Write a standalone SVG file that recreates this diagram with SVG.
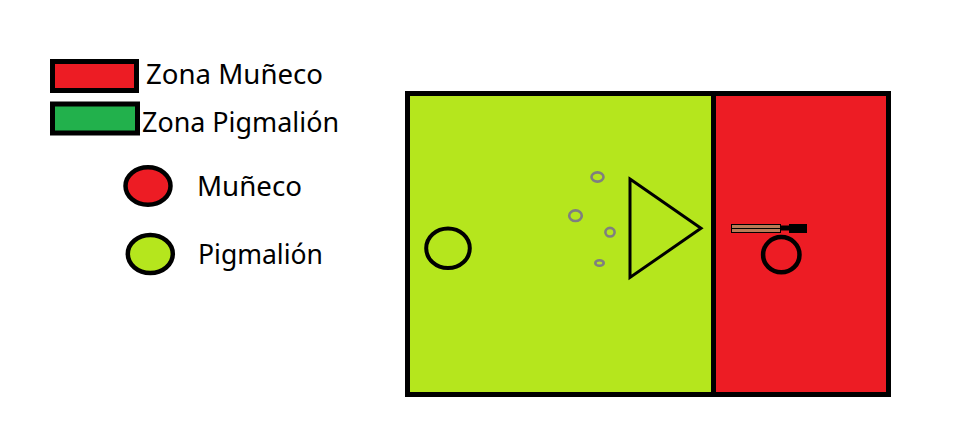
<svg xmlns="http://www.w3.org/2000/svg" width="965" height="444" viewBox="0 0 965 444">
<style>
.t{font-family:"Noto Sans","Open Sans",sans-serif;font-size:26.5px;fill:#000}
.k{stroke:#000;fill:none}
.g{stroke:#7f7f7f;stroke-width:2.6;fill:none}
</style>
<rect width="965" height="444" fill="#fff"/>
<g id="legend-zona-muneco">
<rect x="52.5" y="61.5" width="84" height="29" fill="#ed1c24" stroke="#000" stroke-width="5"/>
<text class="t" x="146" y="84" textLength="177" lengthAdjust="spacingAndGlyphs">Zona Muñeco</text>
</g>
<g id="legend-zona-pigmalion">
<rect x="52.5" y="104" width="85" height="29" fill="#22b14c" stroke="#000" stroke-width="5"/>
<text class="t" x="142" y="132" textLength="197" lengthAdjust="spacingAndGlyphs">Zona Pigmalión</text>
</g>
<g id="legend-muneco">
<ellipse cx="148" cy="186" rx="22.5" ry="18.7" fill="#ed1c24" stroke="#000" stroke-width="4.5"/>
<text class="t" x="197" y="196" textLength="105" lengthAdjust="spacingAndGlyphs">Muñeco</text>
</g>
<g id="legend-pigmalion">
<ellipse cx="150.3" cy="254" rx="22.5" ry="19" fill="#b5e61d" stroke="#000" stroke-width="4.5"/>
<text class="t" x="198" y="264" textLength="125" lengthAdjust="spacingAndGlyphs">Pigmalión</text>
</g>
<g id="field">
<rect x="407.5" y="93.5" width="306" height="301" fill="#b5e61d"/>
<rect x="713.5" y="93.5" width="175" height="301" fill="#ed1c24"/>
<rect x="407.5" y="93.5" width="481" height="301" class="k" stroke-width="5"/>
<line x1="713.5" y1="93.5" x2="713.5" y2="394.5" class="k" stroke-width="5"/>
</g>
<g id="pigmalion">
<ellipse cx="448" cy="248.3" rx="21.8" ry="19.8" class="k" stroke-width="4"/>
</g>
<g id="triangle">
<polygon points="630,179 701,228.3 630,277.5" class="k" stroke-width="3"/>
</g>
<g id="bubbles">
<ellipse cx="597.5" cy="177" rx="6" ry="4.6" class="g"/>
<ellipse cx="575.5" cy="215.7" rx="6.3" ry="5.3" class="g"/>
<ellipse cx="610" cy="232.2" rx="4.6" ry="4.3" class="g"/>
<ellipse cx="599.5" cy="263" rx="4.2" ry="2.8" class="g"/>
</g>
<g id="tool">
<rect x="731.5" y="224.5" width="49" height="8" fill="#b97a57" stroke="#000" stroke-width="1"/>
<line x1="731.5" y1="228.5" x2="780.5" y2="228.5" stroke="#000" stroke-width="1"/>
<rect x="780" y="225.5" width="9" height="5" fill="#000"/>
<rect x="789" y="224" width="18" height="9" fill="#000"/>
</g>
<g id="muneco">
<ellipse cx="781.3" cy="254.7" rx="18.2" ry="17.6" class="k" stroke-width="4.5"/>
</g>
</svg>
